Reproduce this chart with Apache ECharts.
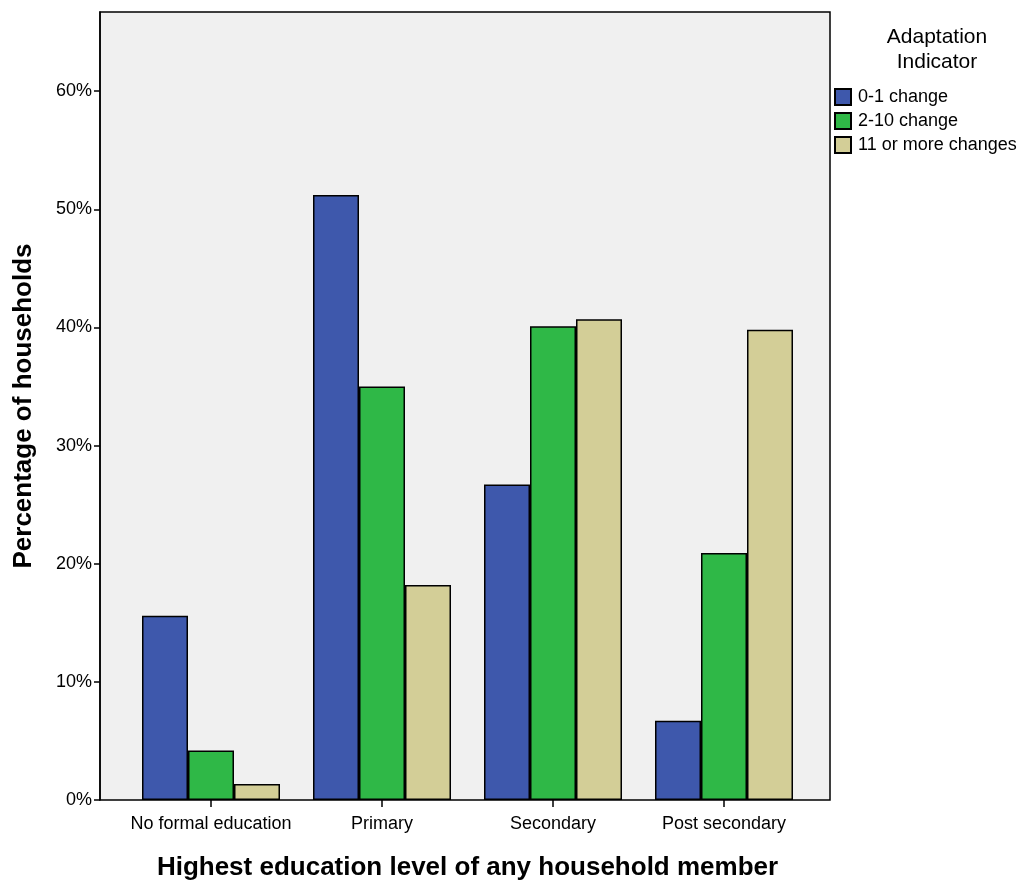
<!DOCTYPE html>
<html>
<head>
<meta charset="utf-8">
<script src="https://cdn.jsdelivr.net/npm/echarts@6/dist/echarts.min.js"></script>
<style>html,body{margin:0;padding:0;background:#fff}#c{width:1033px;height:882px}</style>
</head>
<body>
<div id="c"></div>
<script>
var categories = ['No formal education', 'Primary', 'Secondary', 'Post secondary'];
var seriesNames = ['0-1 change', '2-10 change', '11 or more changes'];
var change01 = [15.6, 51.2, 26.7, 6.7];
var change210 = [4.2, 35.0, 40.1, 20.9];
var change11plus = [1.35, 18.2, 40.7, 39.8];
var yTicks = [0, 10, 20, 30, 40, 50, 60];
var colors = ['#3e58ac', '#2fb847', '#d3ce97'];
var yMax = 66.7;

var chart = echarts.init(document.getElementById('c'));
var font = '"Liberation Sans", Arial, sans-serif';
var dataSets = [change01, change210, change11plus];

chart.setOption({
  backgroundColor: '#ffffff',
  animation: false,
  textStyle: { fontFamily: font, color: '#000' },
  title: {
    text: 'Adaptation\nIndicator',
    left: 932, top: 20, textAlign: 'center',
    textStyle: { fontFamily: font, fontSize: 21, fontWeight: 'normal', color: '#000', lineHeight: 25 }
  },
  legend: {
    orient: 'vertical', left: 834, top: 88, padding: 0,
    itemWidth: 16, itemHeight: 16, itemGap: 6,
    icon: 'rect',
    textStyle: { fontFamily: font, fontSize: 18, color: '#000', padding: [0, 0, 0, 2] },
    data: seriesNames
  },
  grid: [
    { left: 100, right: 203, top: 12, bottom: 82, show: true, backgroundColor: '#f0f0f0', borderColor: '#000', borderWidth: 1.5, z: 0, outerBoundsMode: 'none', containLabel: false },
    { left: 125.5, right: 223.5, top: 12, bottom: 82, outerBoundsMode: 'none', containLabel: false }
  ],
  xAxis: [
    { gridIndex: 0, type: 'value', min: 0, max: 1, show: false },
    {
      gridIndex: 1, type: 'category', data: categories,
      name: 'Highest education level of any household member',
      nameLocation: 'middle', nameGap: 55,
      nameTextStyle: { fontFamily: font, fontSize: 26, fontWeight: 'bold', color: '#000' },
      axisLine: { show: false },
      axisTick: { show: true, alignWithLabel: true, length: 7, lineStyle: { color: '#000', width: 1.5 } },
      axisLabel: { fontFamily: font, fontSize: 18, color: '#000', margin: 15, interval: 0 }
    }
  ],
  yAxis: [
    {
      gridIndex: 0, type: 'value', min: 0, max: yMax,
      name: 'Percentage of households', nameLocation: 'middle', nameGap: 63,
      nameTextStyle: { fontFamily: font, fontSize: 26, fontWeight: 'bold', color: '#000' },
      axisLine: { show: true, lineStyle: { color: '#000', width: 1.5 } },
      axisTick: { show: true, length: 6, lineStyle: { color: '#000', width: 1.5 }, customValues: yTicks },
      axisLabel: { fontFamily: font, fontSize: 18, color: '#000', margin: 8, customValues: yTicks, formatter: function (v) { return v + '%'; } },
      splitLine: { show: false }
    },
    { gridIndex: 1, type: 'value', min: 0, max: yMax, show: false, splitLine: { show: false } }
  ],
  series: seriesNames.map(function (n, i) {
    return {
      name: n, type: 'bar', xAxisIndex: 1, yAxisIndex: 1,
      data: dataSets[i], barWidth: 46, barGap: '0%',
      itemStyle: { color: colors[i], borderColor: '#000', borderWidth: 1.5 },
      z: 3
    };
  })
});
</script>
</body>
</html>
